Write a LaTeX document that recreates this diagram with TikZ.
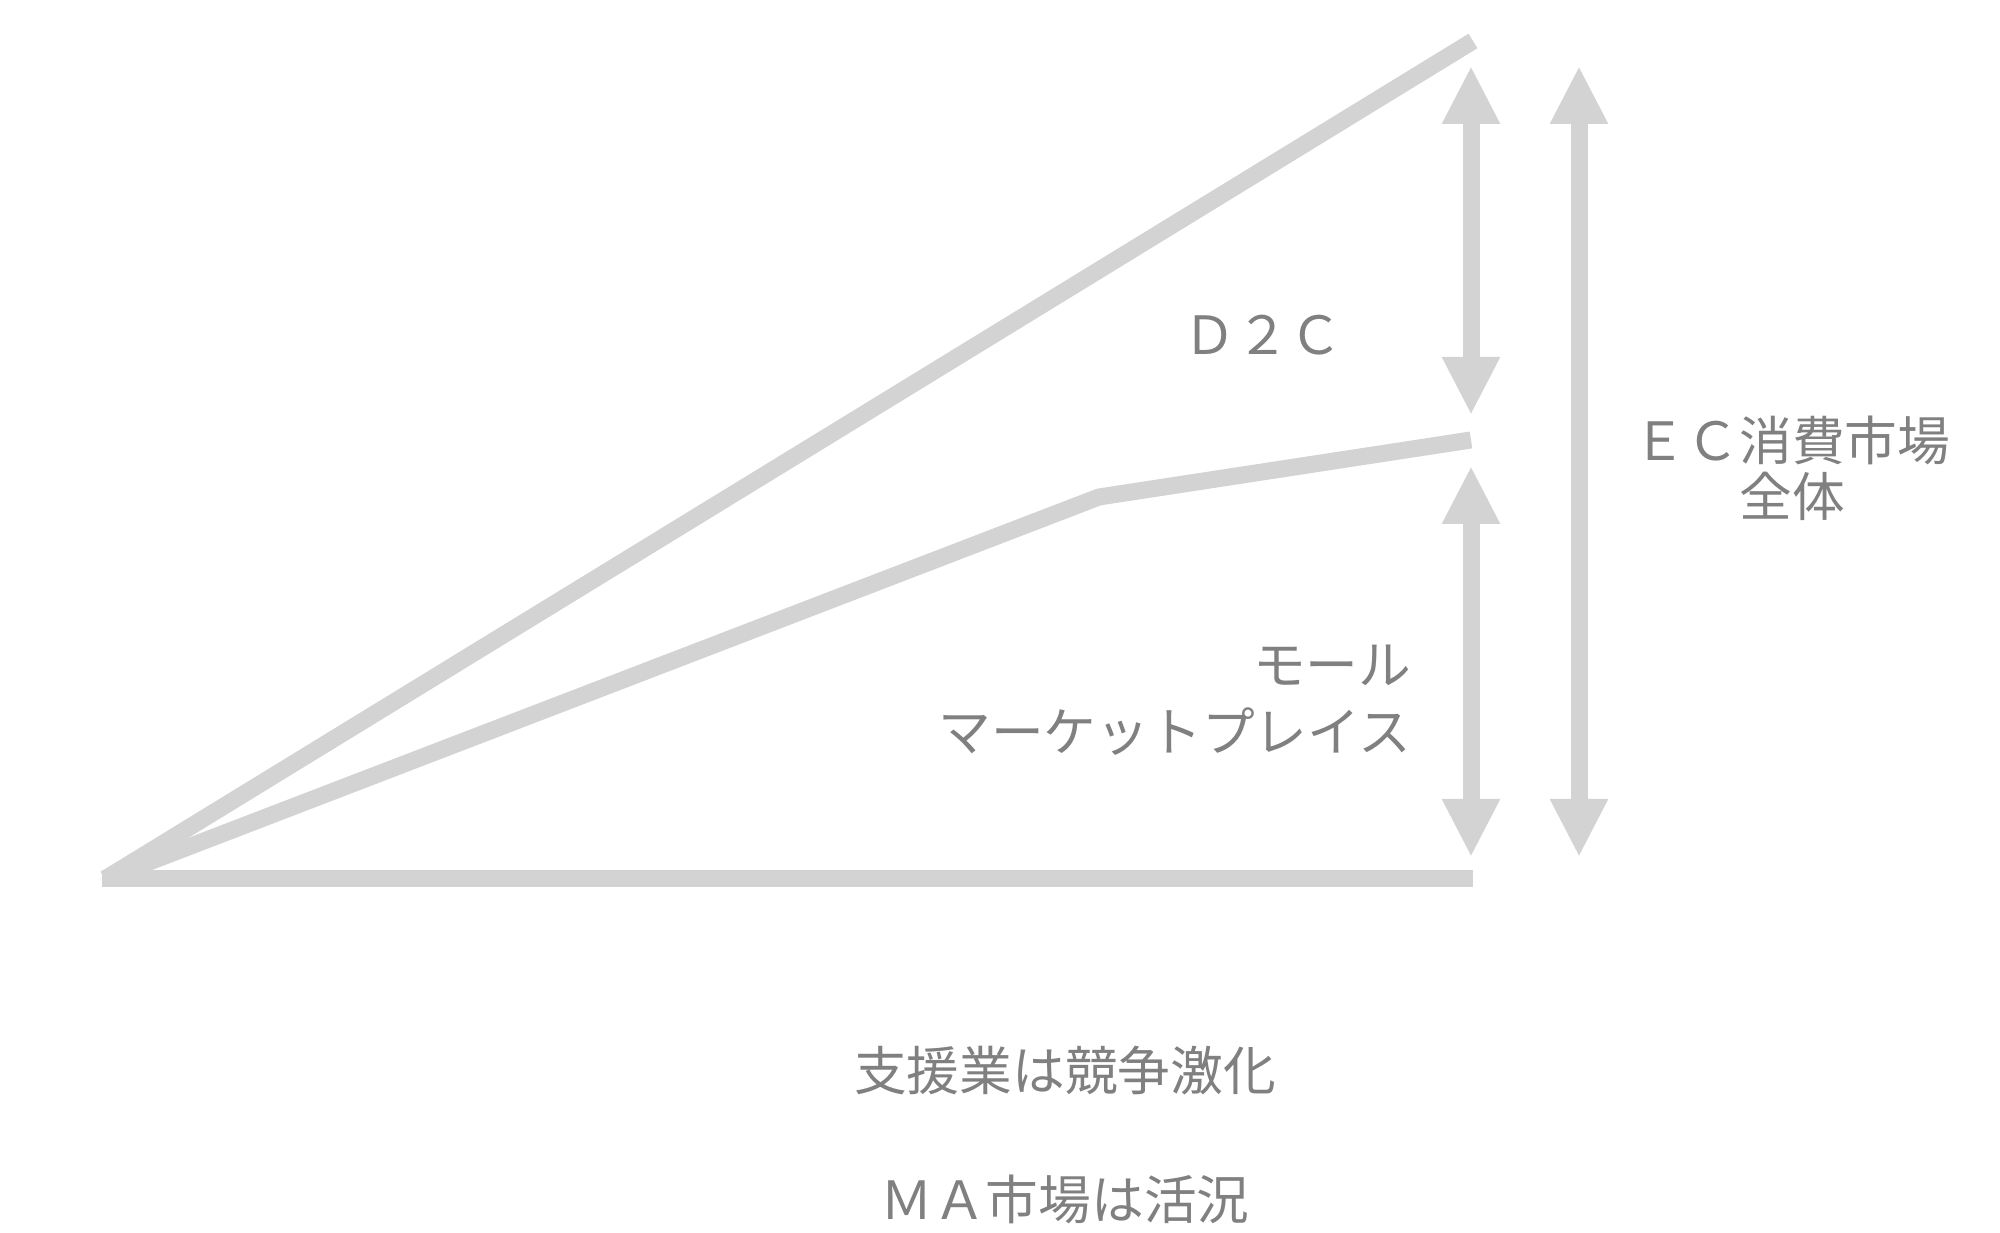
\documentclass[tikz,border=0pt]{standalone}
\usepackage{fontspec}
\setmainfont{Noto Sans CJK JP}
\usetikzlibrary{arrows.meta,positioning}
\definecolor{linegray}{RGB}{211,211,211}
\definecolor{textgray}{RGB}{128,128,128}
\begin{document}
\begin{tikzpicture}[node distance=0.6cm]
\tikzstyle{trend}=[draw=linegray,line width=0.17cm,line join=round]
\tikzstyle{span}=[draw=linegray,line width=0.17cm,{Triangle[width=0.54cm,length=0.58cm]}-{Triangle[width=0.54cm,length=0.58cm]}]
\tikzstyle{up}=[draw=linegray,line width=0.17cm,-{Triangle[width=0.54cm,length=0.58cm]}]
\tikzstyle{lbl}=[text=textgray,font=\fontsize{15pt}{18pt}\selectfont,inner sep=0pt]
\useasboundingbox (0,0) rectangle (20,12.33);
% trend lines
\coordinate (o) at (1.05,3.54);
\coordinate (base) at (1.02,3.54);
\coordinate (baseend) at (14.73,3.54);
\coordinate (topend) at (14.73,11.92);
\coordinate (bend) at (10.99,7.36);
\coordinate (midend) at (14.71,7.93);
\path[trend] (base) -- (baseend);
\path[trend] (o) -- (topend);
\path[trend] (o) -- (bend) -- (midend);
% spans
\coordinate (d2ctop) at (14.71,11.67);
\coordinate (d2cbot) at (14.71,8.18);
\coordinate (malltop) at (14.71,7.67);
\coordinate (mallbot) at (14.71,3.76);
\coordinate (ectop) at (15.79,11.67);
\coordinate (ecbot) at (15.79,3.76);
\path[span] (d2ctop) -- (d2cbot);
\path[span] (malltop) -- (mallbot);
\path[span] (ectop) -- (ecbot);
% labels
\node [lbl] (d2c) at (12.63,8.98) {Ｄ２Ｃ};
\node [lbl,align=center] (ec) at (17.92,7.65) {ＥＣ消費市場\\[-2pt]全体};
\node [lbl,align=right,anchor=east] (mall) at (14.12,5.33) {モール\\[1pt]マーケットプレイス};
\node [lbl] (support) at (10.65,1.62) {支援業は競争激化};
\node [lbl] (ma) at (10.65,0.34) {ＭＡ市場は活況};
\end{tikzpicture}
\end{document}
